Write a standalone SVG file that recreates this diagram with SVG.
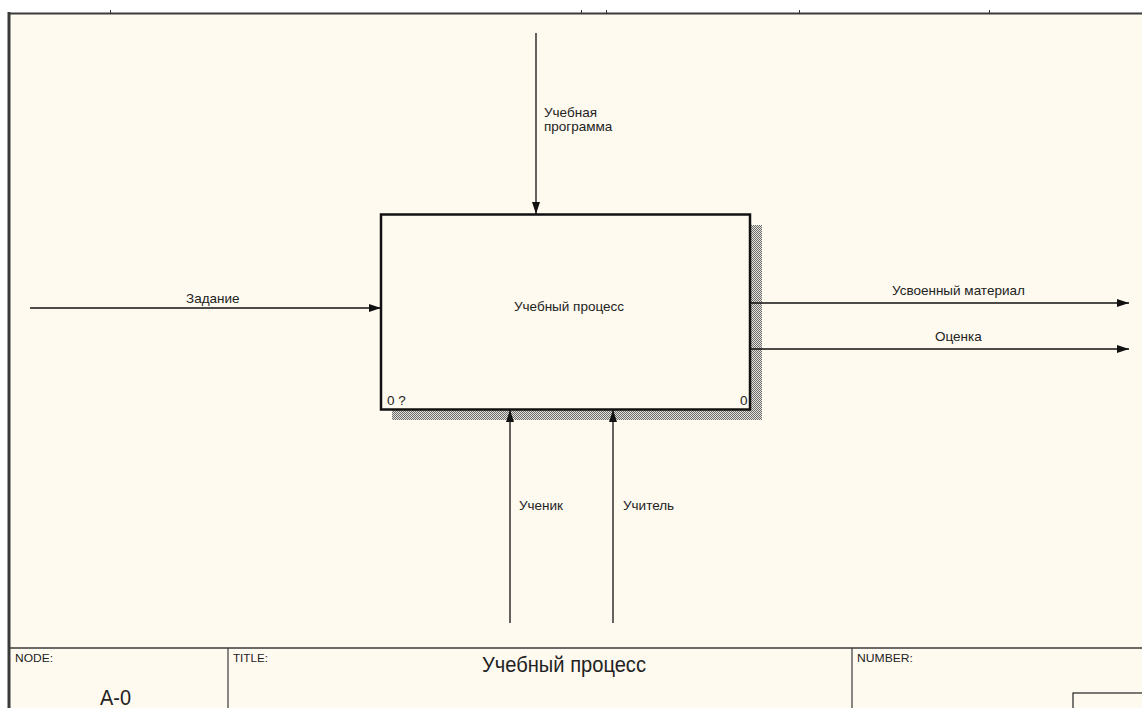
<svg xmlns="http://www.w3.org/2000/svg" width="1142" height="708" viewBox="0 0 1142 708">
<style>
  .lbl { font-family: "Liberation Sans", Arial, sans-serif; font-size: 13.5px; fill: #222; }
  .small { font-family: "Liberation Sans", Arial, sans-serif; font-size: 11px; fill: #222; }
  .big { font-family: "Liberation Sans", Arial, sans-serif; font-size: 22px; fill: #222; }
  .arrow { stroke: #111; stroke-width: 1.3; fill: none; }
  .frame { stroke: #3a3a3a; fill: none; }
</style>
<defs>
  <marker id="ah" viewBox="0 0 12 8" refX="12" refY="4" markerWidth="12" markerHeight="8" markerUnits="userSpaceOnUse" orient="auto">
    <path d="M0,0 L12,4 L0,8 Z" fill="#111"/>
  </marker>
  <pattern id="hatch" width="2" height="2" patternUnits="userSpaceOnUse">
    <rect width="2" height="2" fill="#e6e3dc"/>
    <rect width="1" height="1" fill="#6a6a6a"/>
    <rect x="1" y="1" width="1" height="1" fill="#6a6a6a"/>
  </pattern>
</defs>
<rect width="1142" height="708" fill="#ffffff"/>
<rect x="9" y="14" width="1133" height="694" fill="#fffaf0"/>
<g id="frame">
  <line class="frame" x1="9" y1="13.5" x2="1142" y2="13.5" stroke-width="2"/>
  <line class="frame" x1="9" y1="12" x2="9" y2="708" stroke-width="3"/>
  <g stroke="#333" stroke-width="1">
    <line x1="110.5" y1="10" x2="110.5" y2="14"/>
    <line x1="581.5" y1="10" x2="581.5" y2="14"/>
    <line x1="606.5" y1="10" x2="606.5" y2="14"/>
    <line x1="799.5" y1="10" x2="799.5" y2="14"/>
    <line x1="989.5" y1="10" x2="989.5" y2="14"/>
  </g>
</g>
<g id="node-A0">
  <rect x="750" y="225" width="12" height="195" fill="url(#hatch)"/>
  <rect x="392" y="409" width="370" height="11" fill="url(#hatch)"/>
  <rect x="381" y="214.5" width="369" height="195" fill="#fffaf0" stroke="#111" stroke-width="2.5"/>
  <text class="lbl" x="569" y="311" text-anchor="middle">Учебный процесс</text>
  <text class="lbl" x="387" y="405" font-size="12">0 ?</text>
  <text class="lbl" x="740" y="405" font-size="12">0</text>
</g>
<g id="connectors">
  <line class="arrow" x1="30" y1="308" x2="381" y2="308" marker-end="url(#ah)"/>
  <line class="arrow" x1="536" y1="33" x2="536" y2="214" marker-end="url(#ah)"/>
  <line class="arrow" x1="510" y1="623" x2="510" y2="410" marker-end="url(#ah)"/>
  <line class="arrow" x1="613" y1="623" x2="613" y2="410" marker-end="url(#ah)"/>
  <line class="arrow" x1="751" y1="303" x2="1129" y2="303" marker-end="url(#ah)"/>
  <line class="arrow" x1="751" y1="349" x2="1129" y2="349" marker-end="url(#ah)"/>
  <text class="lbl" x="186" y="303">Задание</text>
  <text class="lbl" x="544" y="117">Учебная</text>
  <text class="lbl" x="544" y="131">программа</text>
  <text class="lbl" x="519" y="510">Ученик</text>
  <text class="lbl" x="623" y="510">Учитель</text>
  <text class="lbl" x="892" y="295">Усвоенный материал</text>
  <text class="lbl" x="935" y="341">Оценка</text>
</g>
<g id="title-block">
  <line class="frame" x1="9" y1="648" x2="1142" y2="648" stroke-width="1.5"/>
  <line class="frame" x1="228" y1="648" x2="228" y2="708" stroke-width="1.2"/>
  <line class="frame" x1="852" y1="648" x2="852" y2="708" stroke-width="1.2"/>
  <rect x="1073" y="693" width="80" height="30" fill="none" stroke="#222" stroke-width="1.2"/>
  <text class="small" x="15" y="662" textLength="38" lengthAdjust="spacingAndGlyphs">NODE:</text>
  <text class="small" x="233" y="662" textLength="35" lengthAdjust="spacingAndGlyphs">TITLE:</text>
  <text class="small" x="857" y="662" textLength="56" lengthAdjust="spacingAndGlyphs">NUMBER:</text>
  <text class="big" x="100" y="705" font-size="24" textLength="31" lengthAdjust="spacingAndGlyphs">A-0</text>
  <text class="big" x="482" y="672" textLength="164" lengthAdjust="spacingAndGlyphs">Учебный процесс</text>
</g>
</svg>
